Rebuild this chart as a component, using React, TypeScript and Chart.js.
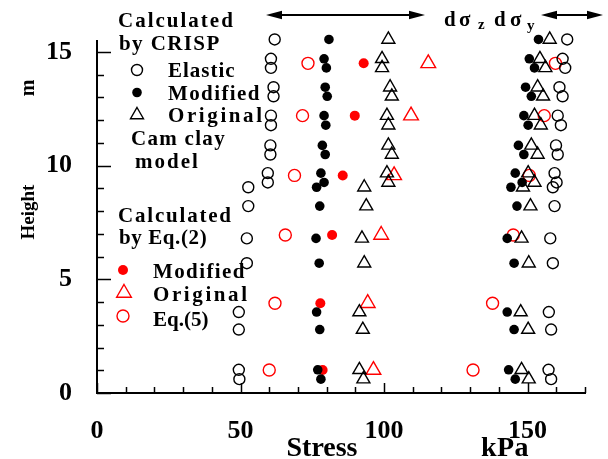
import React, { useEffect, useRef } from 'react';
import { Chart, registerables } from 'chart.js';

Chart.register(...registerables);

// ---- Data ----
const heights = [15.55, 14.7, 14.3, 13.45, 13.05, 12.2, 11.78, 10.89, 10.49, 9.67, 9.26, 9.05, 8.22, 6.8, 5.71, 3.56, 2.79, 1.02, 0.61];
const elasticZ = [61.9, 60.6, 60.6, 61.5, 61.5, 60.6, 60.6, 60.4, 60.4, 59.5, 59.5, 52.7, 52.7, 52.2, 52.2, 49.4, 49.4, 49.4, 49.6];
const elasticY = [163.8, 162.2, 163.1, 161.1, 162.2, 160.5, 161.6, 159.9, 160.5, 159.4, 160.1, 158.8, 159.4, 157.9, 158.8, 157.4, 158.2, 157.3, 158.2];
const modifiedZ = [80.8, 79.1, 79.9, 79.5, 80.2, 79.1, 79.7, 78.5, 79.5, 78.0, 79.1, 76.5, 77.6, 76.3, 77.4, 76.5, 77.6, 76.9, 78.0];
const modifiedY = [153.8, 150.6, 152.4, 149.3, 151.3, 148.7, 150.2, 146.8, 148.7, 145.7, 148.1, 144.2, 146.3, 142.9, 145.3, 142.9, 145.3, 143.4, 145.7];
const originalZ = [101.5, 99.3, 99.3, 102.1, 102.7, 101.0, 101.5, 101.5, 102.7, 101.0, 101.5, 93.1, 93.8, 92.3, 93.1, 91.4, 92.6, 91.4, 92.8];
const originalY = [157.7, 154.3, 156.2, 153.5, 155.4, 152.4, 154.6, 151.3, 153.5, 150.2, 152.4, 148.4, 151.0, 147.9, 150.4, 147.6, 150.2, 147.9, 150.4];

const eqHeights = [14.5, 12.2, 9.57, 6.95, 3.95, 1.01];
const eq2ModifiedZ = [92.9, 89.8, 85.6, 81.9, 77.8, 78.6];
const eq2OriginalZ = [115.4, 109.4, 103.5, 99.0, 94.3, 96.3];
const eq5Z = [73.5, 71.6, 68.8, 65.6, 62.0, 60.0];
const eq5Y = [159.7, 155.8, 150.6, 145.0, 137.8, 131.0];

const xTickLabels = [0, 50, 100, 150];
const yTickLabels = [0, 5, 10, 15];

const FONT = '"Liberation Serif", "Times New Roman", serif';
const RED = '#ff0000';

const pts = (xs: number[], ys: number[]) => xs.map((x, i) => ({ x, y: ys[i] }));

function drawMarker(ctx: CanvasRenderingContext2D, kind: string, x: number, y: number, r: number, color: string, filled: boolean) {
  ctx.save();
  ctx.beginPath();
  if (kind === 'circle') {
    ctx.arc(x, y, r, 0, Math.PI * 2);
  } else {
    let a = 0;
    ctx.moveTo(x + Math.sin(a) * r, y - Math.cos(a) * r);
    a += (2 * Math.PI) / 3;
    ctx.lineTo(x + Math.sin(a) * r, y - Math.cos(a) * r);
    a += (2 * Math.PI) / 3;
    ctx.lineTo(x + Math.sin(a) * r, y - Math.cos(a) * r);
    ctx.closePath();
  }
  if (filled) {
    ctx.fillStyle = color;
    ctx.fill();
  } else {
    ctx.strokeStyle = color;
    ctx.lineWidth = 1.4;
    ctx.stroke();
  }
  ctx.restore();
}

function text(ctx: CanvasRenderingContext2D, s: string, x: number, y: number, size: number, spacing = 0, align: CanvasTextAlign = 'left') {
  ctx.save();
  ctx.font = `bold ${size}px ${FONT}`;
  (ctx as any).letterSpacing = `${spacing}px`;
  ctx.fillStyle = '#000';
  ctx.textAlign = align;
  ctx.textBaseline = 'alphabetic';
  ctx.fillText(s, x, y);
  ctx.restore();
}

function arrow(ctx: CanvasRenderingContext2D, x1: number, x2: number, y: number) {
  ctx.save();
  ctx.strokeStyle = '#000';
  ctx.fillStyle = '#000';
  ctx.lineWidth = 1.8;
  ctx.beginPath();
  ctx.moveTo(x1 + 8, y);
  ctx.lineTo(x2 - 8, y);
  ctx.stroke();
  const hl = 16, hw = 4.2;
  ctx.beginPath();
  ctx.moveTo(x1, y);
  ctx.lineTo(x1 + hl, y - hw);
  ctx.lineTo(x1 + hl, y + hw);
  ctx.closePath();
  ctx.fill();
  ctx.beginPath();
  ctx.moveTo(x2, y);
  ctx.lineTo(x2 - hl, y - hw);
  ctx.lineTo(x2 - hl, y + hw);
  ctx.closePath();
  ctx.fill();
  ctx.restore();
}

const inwardTicks = {
  id: 'inwardTicks',
  beforeDatasetsDraw(chart: any) {
    const { ctx, chartArea } = chart;
    const xs = chart.scales.x;
    const ys = chart.scales.y;
    ctx.save();
    ctx.strokeStyle = '#000';
    ctx.lineWidth = 1.5;
    xs.ticks.forEach((t: any) => {
      const px = Math.round(xs.getPixelForValue(t.value)) + 0.5;
      const len = t.value % 50 === 0 ? 10 : 6;
      ctx.beginPath();
      ctx.moveTo(px, chartArea.bottom);
      ctx.lineTo(px, chartArea.bottom - len);
      ctx.stroke();
    });
    ys.ticks.forEach((t: any) => {
      const py = Math.round(ys.getPixelForValue(t.value)) + 0.5;
      const len = t.value % 5 === 0 ? 14 : 7;
      ctx.beginPath();
      ctx.moveTo(chartArea.left, py);
      ctx.lineTo(chartArea.left + len, py);
      ctx.stroke();
    });
    ctx.restore();
  },
};

const annotations = {
  id: 'annotations',
  afterDraw(chart: any) {
    const ctx: CanvasRenderingContext2D = chart.ctx;
    // CRISP legend block
    text(ctx, 'Calculated', 118, 27, 21, 2.0);
    text(ctx, 'by CRISP', 119, 50, 21, 1.4);
    drawMarker(ctx, 'circle', 137, 70, 5.5, '#000', false);
    text(ctx, 'Elastic', 168, 77, 21, 1.0);
    drawMarker(ctx, 'circle', 137, 92.5, 4.8, '#000', true);
    text(ctx, 'Modified', 168, 100, 21, 1.4);
    drawMarker(ctx, 'triangle', 137, 115, 7.5, '#000', false);
    text(ctx, 'Original', 168, 122, 21, 2.6);
    text(ctx, 'Cam clay', 131, 145, 21, 1.3);
    text(ctx, 'model', 135, 168, 21, 2.0);
    // Eq.(2) legend block
    text(ctx, 'Calculated', 118, 222, 21, 1.8);
    text(ctx, 'by Eq.(2)', 119, 244, 21, 0.6);
    drawMarker(ctx, 'circle', 123, 270, 5, RED, true);
    text(ctx, 'Modified', 153, 278, 21, 1.4);
    drawMarker(ctx, 'triangle', 124, 293, 8.5, RED, false);
    text(ctx, 'Original', 153, 301, 21, 2.6);
    drawMarker(ctx, 'circle', 123, 316, 6, RED, false);
    text(ctx, 'Eq.(5)', 153, 326, 21, 0);
    // top arrows & labels
    arrow(ctx, 266, 425, 15);
    arrow(ctx, 541, 603, 15);
    text(ctx, 'd', 444, 26, 21);
    text(ctx, 'σ', 459, 26, 21);
    text(ctx, 'z', 478, 29, 15);
    text(ctx, 'd', 494, 26, 21);
    text(ctx, 'σ', 510, 26, 21);
    text(ctx, 'y', 527, 30, 15);
    // axis titles
    text(ctx, 'Stress', 322, 456, 28, 0, 'center');
    text(ctx, 'kPa', 505, 456, 28, 0.5, 'center');
    ctx.save();
    ctx.translate(34, 212);
    ctx.rotate(-Math.PI / 2);
    text(ctx, 'Height', 0, 0, 19, 0, 'center');
    ctx.restore();
    ctx.save();
    ctx.translate(34, 88);
    ctx.rotate(-Math.PI / 2);
    text(ctx, 'm', 0, 0, 20, 0, 'center');
    ctx.restore();
  },
};

export default function App() {
  const ref = useRef<HTMLCanvasElement>(null);
  useEffect(() => {
    const prev = document.body.style.margin;
    document.body.style.margin = '0';
    const openBlackCircle = { pointStyle: 'circle', pointRadius: 5.5, backgroundColor: 'rgba(0,0,0,0)', borderColor: '#000', borderWidth: 1.4 };
    const filledBlack = { pointStyle: 'circle', pointRadius: 4.8, backgroundColor: '#000', borderColor: '#000', borderWidth: 0 };
    const openBlackTri = { pointStyle: 'triangle', pointRadius: 7.5, backgroundColor: 'rgba(0,0,0,0)', borderColor: '#000', borderWidth: 1.4 };
    const chart = new Chart(ref.current as HTMLCanvasElement, {
      type: 'scatter',
      data: {
        datasets: [
          { label: 'Elastic dσz', data: pts(elasticZ, heights), ...openBlackCircle },
          { label: 'Elastic dσy', data: pts(elasticY, heights), ...openBlackCircle },
          { label: 'Modified dσz', data: pts(modifiedZ, heights), ...filledBlack },
          { label: 'Modified dσy', data: pts(modifiedY, heights), ...filledBlack },
          { label: 'Original dσz', data: pts(originalZ, heights), ...openBlackTri },
          { label: 'Original dσy', data: pts(originalY, heights), ...openBlackTri },
          { label: 'Eq.(2) Modified', data: pts(eq2ModifiedZ, eqHeights), pointStyle: 'circle', pointRadius: 5, backgroundColor: RED, borderColor: RED, borderWidth: 0 },
          { label: 'Eq.(2) Original', data: pts(eq2OriginalZ, eqHeights), pointStyle: 'triangle', pointRadius: 8.5, backgroundColor: 'rgba(0,0,0,0)', borderColor: RED, borderWidth: 1.4 },
          { label: 'Eq.(5) dσz', data: pts(eq5Z, eqHeights), pointStyle: 'circle', pointRadius: 6, backgroundColor: 'rgba(0,0,0,0)', borderColor: RED, borderWidth: 1.4 },
          { label: 'Eq.(5) dσy', data: pts(eq5Y, eqHeights), pointStyle: 'circle', pointRadius: 6, backgroundColor: 'rgba(0,0,0,0)', borderColor: RED, borderWidth: 1.4 },
        ] as any,
      },
      options: {
        animation: false,
        responsive: false,
        devicePixelRatio: 1,
        events: [],
        clip: false as any,
        layout: { padding: { left: 0, top: 35, right: 6, bottom: 0 } },
        plugins: { legend: { display: false }, tooltip: { enabled: false }, title: { display: false } },
        scales: {
          x: {
            type: 'linear',
            position: 'bottom',
            min: 0,
            max: 170,
            ticks: {
              stepSize: 10,
              autoSkip: false,
              includeBounds: false,
              maxRotation: 0,
              padding: 23,
              color: '#000',
              font: { family: FONT, size: 26, weight: 'bold' },
              callback: (v: any) => (xTickLabels.includes(Number(v)) ? String(v) : ''),
            },
            grid: { display: true, drawOnChartArea: false, drawTicks: false },
            border: { display: true, color: '#000', width: 2 },
            afterFit: (s: any) => { s.height = 66; },
          },
          y: {
            type: 'linear',
            min: 0,
            max: 15.5,
            ticks: {
              stepSize: 1,
              autoSkip: false,
              includeBounds: false,
              padding: 25,
              color: '#000',
              font: { family: FONT, size: 26, weight: 'bold' },
              callback: (v: any) => (yTickLabels.includes(Number(v)) ? String(v) : ''),
            },
            afterBuildTicks: (s: any) => { s.ticks = s.ticks.filter((t: any) => Number.isInteger(t.value)); },
            grid: { display: true, drawOnChartArea: false, drawTicks: false },
            border: { display: true, color: '#000', width: 2 },
            afterFit: (s: any) => { s.width = 97; },
          },
        },
      } as any,
      plugins: [inwardTicks, annotations],
    });
    return () => {
      chart.destroy();
      document.body.style.margin = prev;
    };
  }, []);
  return (
    <div style={{ width: 608, height: 459, background: '#fff' }}>
      <canvas ref={ref} width={608} height={459} style={{ display: 'block' }} />
    </div>
  );
}
